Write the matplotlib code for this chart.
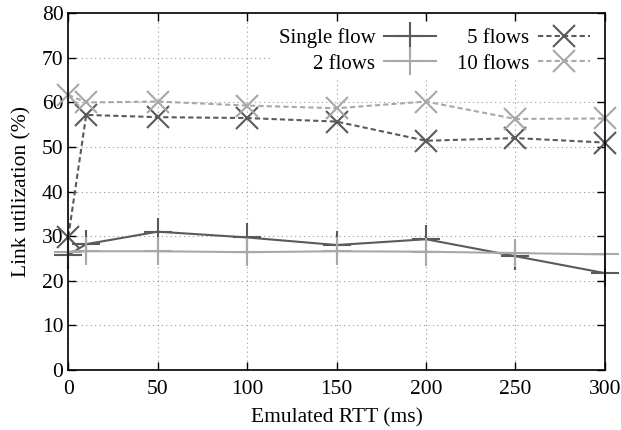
import matplotlib
matplotlib.use("Agg")
import matplotlib.pyplot as plt

rtt = [0, 10, 50, 100, 150, 200, 250, 300]
single_flow = [25.8, 28.2, 31.0, 29.7, 28.0, 29.3, 25.5, 21.7]
two_flows = [26.5, 26.6, 26.6, 26.4, 26.6, 26.5, 26.2, 25.9]
five_flows = [29.9, 57.2, 56.7, 56.5, 55.7, 51.4, 52.0, 51.0]
ten_flows = [61.7, 60.0, 60.2, 59.3, 58.7, 60.2, 56.3, 56.4]

dark = "#5a5a5a"
light = "#a8a8a8"

plt.rcParams["font.family"] = ["Liberation Serif", "DejaVu Serif"]
plt.rcParams["font.size"] = 15.5

fig = plt.figure(figsize=(6.21, 4.30), dpi=100)
ax = fig.add_axes([0.110, 0.140, 0.864, 0.829])

ax.plot(rtt, single_flow, color=dark, lw=1.5, marker="+", ms=20, mew=1.5, label="Single flow", clip_on=False, zorder=3)
ax.plot(rtt, two_flows, color=light, lw=1.5, marker="+", ms=20, mew=1.5, label="2 flows", clip_on=False, zorder=3)
ax.plot(rtt, five_flows, color=dark, lw=1.5, ls=(0, (2.5, 1.5)), marker="x", ms=16, mew=1.5, label="5 flows", clip_on=False, zorder=3)
ax.plot(rtt, ten_flows, color=light, lw=1.5, ls=(0, (2.5, 1.5)), marker="x", ms=16, mew=1.5, label="10 flows", clip_on=False, zorder=3)

ax.set_xlim(0, 300)
ax.set_ylim(0, 80)
ax.set_xticks(range(0, 301, 50))
ax.set_yticks(range(0, 81, 10))
ax.tick_params(direction="in", top=True, right=True, length=6, width=1)
ax.tick_params(axis="x", pad=7)
ax.grid(True, ls=(0, (1, 3)), color="#999999", lw=0.8)
for s in ax.spines.values():
    s.set_linewidth(1.2)
    s.set_zorder(4)

ax.set_xlabel("Emulated RTT (ms)", labelpad=7)
ax.set_ylabel("Link utilization (%)", labelpad=7)

leg = ax.legend(ncol=2, loc="upper right", markerfirst=False, frameon=True,
                handlelength=2.5, columnspacing=1.0, borderaxespad=0.4,
                handletextpad=0.42, labelspacing=0.3, borderpad=0.3, fontsize=15)
leg.get_frame().set_facecolor("white")
leg.get_frame().set_edgecolor("none")
leg.get_frame().set_alpha(1)
leg.set_zorder(5)
for t in leg.get_texts():
    t.set_ha("right")

fig.savefig("out.png", dpi=100)
